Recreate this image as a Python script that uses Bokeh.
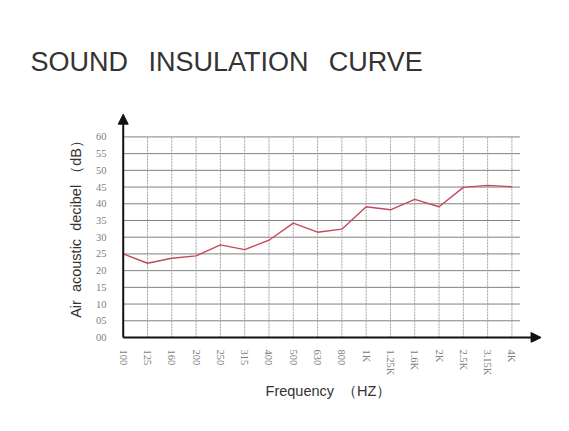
import math
from bokeh.plotting import figure
from bokeh.models import Range1d, FixedTicker, Arrow, NormalHead
from bokeh.embed import file_html
from bokeh.resources import INLINE

# ---- data ----
freq_labels = ["100", "125", "160", "200", "250", "315", "400", "500", "630", "800",
               "1K", "1.25K", "1.6K", "2K", "2.5K", "3.15K", "4K"]
decibels = [25.0, 22.2, 23.7, 24.4, 27.7, 26.3, 29.1, 34.2, 31.5, 32.4,
            39.1, 38.2, 41.3, 39.1, 44.9, 45.5, 45.1]
y_ticks = [0, 5, 10, 15, 20, 25, 30, 35, 40, 45, 50, 55, 60]
y_tick_labels = ["00", "05", "10", "15", "20", "25", "30", "35", "40", "45", "50", "55", "60"]
title_text = "SOUND\u00a0\u2009 INSULATION\u00a0\u2009 CURVE"
x_title = "Frequency\u00a0 \uff08HZ\uff09"
y_title = "Air\u00a0 acoustic\u00a0 decibel\u00a0\uff08dB\uff09"

xs = list(range(len(freq_labels)))
n = len(freq_labels)
x_axis_end = 17.2
y_axis_end = 66.8
grid_x_end = n - 1 + 0.33

p = figure(width=553, height=415, output_backend="svg", toolbar_location=None,
           x_range=Range1d(-0.4, 17.3), y_range=Range1d(-1.5, 68.5),
           title=title_text)
p.min_border_left = 113
p.min_border_right = 10
p.min_border_top = 108
p.min_border_bottom = 73
p.outline_line_color = None
p.background_fill_color = "white"
p.border_fill_color = "white"

p.title.text_font = "Liberation Sans"
p.title.text_font_size = "27px"
p.title.text_font_style = "normal"
p.title.text_color = "#333333"
p.title.align = "left"
p.title.offset = -83
p.title.standoff = 63

p.xgrid.visible = False
p.ygrid.visible = False

# grid lines built from the tick positions
hy = y_ticks[1:]
p.segment(x0=[0] * len(hy), y0=hy, x1=[grid_x_end] * len(hy), y1=hy,
          line_color="#808080", line_width=1)
vx = xs[1:]
p.segment(x0=vx, y0=[0] * len(vx), x1=vx, y1=[y_ticks[-1]] * len(vx),
          line_color="#a0a0a0", line_width=1, line_dash="2 1")

# axes (labels only; axis lines drawn as arrows)
for ax in (p.xaxis[0], p.yaxis[0]):
    ax.axis_line_color = None
    ax.major_tick_line_color = None
    ax.minor_tick_line_color = None
    ax.major_label_text_font = "Liberation Serif"
    ax.major_label_text_font_size = "10.5px"
    ax.major_label_text_color = "#808080"
    ax.axis_label_text_font = "Liberation Sans"
    ax.axis_label_text_font_style = "normal"
    ax.axis_label_text_color = "#333333"
    ax.axis_label_text_font_size = "14.5px"

p.xaxis.ticker = FixedTicker(ticks=xs)
p.xaxis.major_label_overrides = {i: lab for i, lab in zip(xs, freq_labels)}
p.xaxis.major_label_orientation = -math.pi / 2
p.xaxis.major_label_standoff = 1
p.xaxis.axis_label = x_title
p.xaxis.axis_label_standoff = 5

p.yaxis.ticker = FixedTicker(ticks=y_ticks)
p.yaxis.major_label_overrides = {t: lab for t, lab in zip(y_ticks, y_tick_labels)}
p.yaxis.major_label_standoff = 1
p.yaxis.axis_label = y_title
p.yaxis.axis_label_standoff = 9

# axis lines with arrow heads
p.add_layout(Arrow(end=NormalHead(size=10, fill_color="#111111", line_color="#111111"),
                   x_start=0, y_start=0, x_end=0, y_end=y_axis_end,
                   line_color="#111111", line_width=2))
p.add_layout(Arrow(end=NormalHead(size=10, fill_color="#111111", line_color="#111111"),
                   x_start=0, y_start=0, x_end=x_axis_end, y_end=0,
                   line_color="#111111", line_width=2))

# data line
p.line(xs, decibels, line_color="#c24a5c", line_width=1.4)

open("out.html", "w").write(file_html(p, INLINE))
